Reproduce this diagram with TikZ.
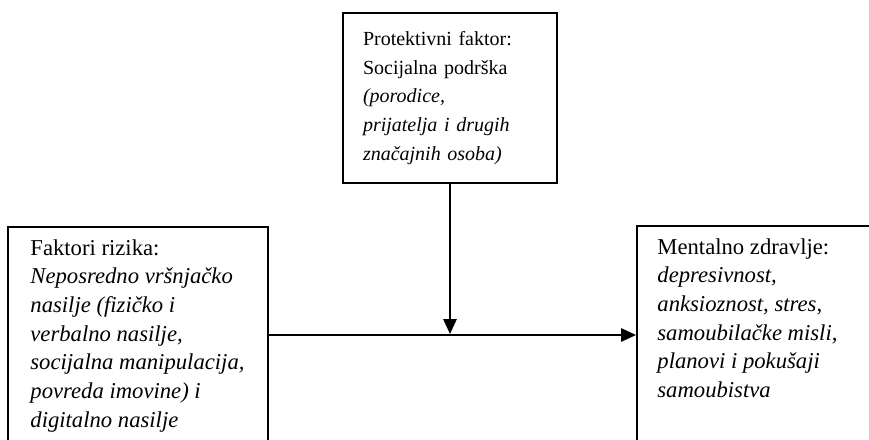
\documentclass[tikz,border=0pt]{standalone}
\usepackage{fontspec}
\setmainfont{Liberation Serif}
\usetikzlibrary{positioning,arrows.meta}

\begin{document}
\begin{tikzpicture}[x=0.6pt,y=-0.6pt
    , every node/.style={inner sep=0pt}
    , box/.style={draw,line width=1.1pt}
    , txt/.style={align=left,font=\fontsize{12pt}{17.2pt}\selectfont}
    , veliki/.style={font=\fontsize{13.6pt}{17.2pt}\selectfont}
    , veza/.style={line width=1.1pt,-{Triangle[length=9pt,width=8pt]}}
]
    \useasboundingbox (0,0) rectangle (869,439);
    \clip (0,0) rectangle (869,439);

    % Protective factor
    \node[box,txt,text width=104.4pt,inner xsep=12pt,minimum height=102pt] (zastita) at (450,98)
        {Protektivni faktor:\\ Socijalna podrška\\ \textit{(porodice,}\\
         \textit{prijatelja i drugih}\\ \textit{značajnih osoba)}};

    % Risk factors
    \node[box,minimum width=156pt,minimum height=129.6pt] (rizik) at (138,335) {};
    \node[txt,veliki,anchor=north west] (rizikTekst) at ([shift={(23,13)}]rizik.north west)
        {Faktori rizika:\\ \textit{Neposredno vršnjačko}\\ \textit{nasilje (fizičko i}\\
         \textit{verbalno nasilje,}\\ \textit{socijalna manipulacija,}\\
         \textit{povreda imovine) i}\\ \textit{digitalno nasilje}};

    % Mental health
    \node[box,minimum width=156pt,minimum height=130.8pt] (zdravlje) at (767,335) {};
    \node[txt,veliki,anchor=north west] (zdravljeTekst) at ([shift={(21,13)}]zdravlje.north west)
        {Mentalno zdravlje:\\ \textit{depresivnost,}\\ \textit{anksioznost, stres,}\\
         \textit{samoubilačke misli,}\\ \textit{planovi i pokušaji}\\ \textit{samoubistva}};

    % Arrows
    \draw[veza] (rizik.east) -- (zdravlje.west);
    \coordinate (spoj) at (zastita.south |- rizik.east);
    \draw[veza,shorten >=0.6pt] (zastita.south) -- (spoj);
\end{tikzpicture}
\end{document}
